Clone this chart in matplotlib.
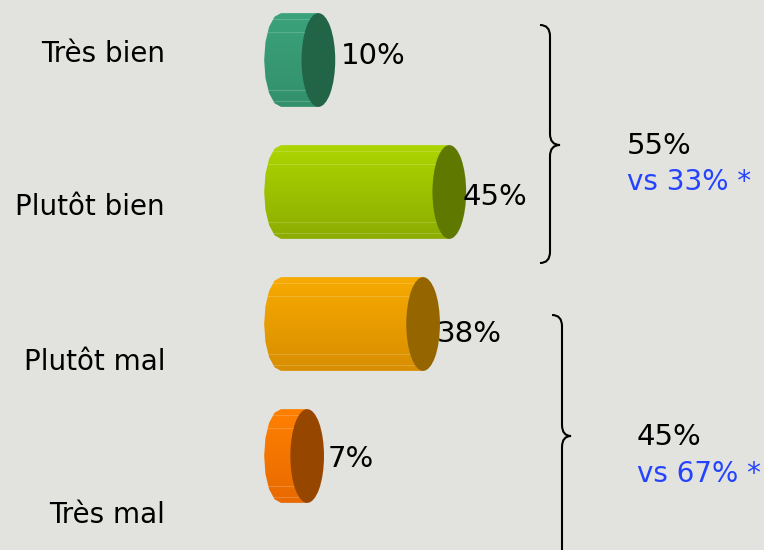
import numpy as np
import matplotlib
matplotlib.use('Agg')
import matplotlib.pyplot as plt
from matplotlib.patches import Ellipse, PathPatch
from matplotlib.path import Path

categories = ['Très bien', 'Plutôt bien', 'Plutôt mal', 'Très mal']
values = [10, 45, 38, 7]
value_labels = ['10%', '45%', '38%', '7%']

group_totals = ['55%', '45%']
group_compare = ['vs 33% *', 'vs 67% *']

# (light top, dark bottom, cap) per bar
body_top = ['#3aa27c', '#acd600', '#f7aa00', '#ff8000']
body_bot = ['#33906c', '#8cac00', '#d88e00', '#e86a00']
cap_col = ['#216446', '#5f7800', '#956600', '#974600']

# nudges of the value labels (pixels), as in the original slide
lab_dx = [6, -4, -3, 4]
lab_dy = [-4, 5, 10, 3]

bg = '#e2e2de'
W, H = 764, 550

fig = plt.figure(figsize=(W / 100, H / 100), dpi=100, facecolor=bg)
ax = fig.add_axes([0, 0, 1, 1])
ax.set_facecolor(bg)

# x in percent, y in category slots (0 at top)
px_per_pct = 3.74
x0_px = 281
slot_px = 132
y0_px = 60
ax.set_xlim(-x0_px / px_per_pct, (W - x0_px) / px_per_pct)
ax.set_ylim((H - y0_px) / slot_px, -y0_px / slot_px)
ax.axis('off')

bar_h = 0.71
cap_w = 9.0


def px(x, y):
    # figure pixel position -> figure fraction
    return x / W, 1 - y / H


for i, v in enumerate(values):
    top, bot = i - bar_h / 2, i + bar_h / 2
    # body: left half ellipse + rectangle up to value
    t = np.linspace(np.pi / 2, 3 * np.pi / 2, 9)
    left = np.column_stack([cap_w / 2 * np.cos(t), i - bar_h / 2 * np.sin(t)])
    verts = np.vstack([[[v, top]], left, [[v, bot]], [[v, top]]])
    path = Path(verts)
    patch = PathPatch(path, facecolor='none', edgecolor='none')
    ax.add_patch(patch)
    grad = np.linspace(0, 1, 60).reshape(-1, 1)
    c1 = np.array(matplotlib.colors.to_rgb(body_top[i]))
    c2 = np.array(matplotlib.colors.to_rgb(body_bot[i]))
    img = c1 + (c2 - c1) * grad[:, :, None]
    im = ax.imshow(img, extent=[-cap_w / 2, v, bot, top], aspect='auto',
                   interpolation='bilinear', zorder=2)
    im.set_clip_path(patch)
    # faint facet lines
    for f in [0.06, 0.2, 0.82, 0.94]:
        yy = top + f * bar_h
        ax.plot([-cap_w / 2 + 1, v], [yy, yy], color='white', alpha=0.18,
                lw=0.8, zorder=3, clip_path=patch)
    # right cap
    ax.add_patch(Ellipse((v, i), cap_w, bar_h, facecolor=cap_col[i],
                         edgecolor='none', zorder=4))
    ax.annotate(value_labels[i], (v + cap_w / 2, i),
                xytext=(lab_dx[i] * 0.72, -lab_dy[i] * 0.72),
                textcoords='offset points', fontsize=21,
                va='center', ha='left', zorder=5)

# category labels (evenly spaced, not aligned with bars)
label_base = [62, 215, 370, 523]
for lab, yb in zip(categories, label_base):
    fig.text(*px(165, yb), lab, fontsize=20, ha='right', va='baseline')


def brace(x_end, x_line, x_tip, y_top, y_mid, y_bot, r):
    verts = [(x_end, y_top), (x_line, y_top), (x_line, y_top + r),
             (x_line, y_mid - r), (x_line, y_mid), (x_tip, y_mid),
             (x_line, y_mid), (x_line, y_mid + r),
             (x_line, y_bot - r), (x_line, y_bot), (x_end, y_bot)]
    codes = [Path.MOVETO, Path.CURVE3, Path.CURVE3,
             Path.LINETO, Path.CURVE3, Path.CURVE3,
             Path.CURVE3, Path.CURVE3,
             Path.LINETO, Path.CURVE3, Path.CURVE3]
    ax.add_patch(PathPatch(Path(verts, codes), facecolor='none',
                           edgecolor='black', lw=1.5, zorder=5))


def to_x(p):
    return (p - x0_px) / px_per_pct


def to_y(p):
    return (p - y0_px) / slot_px


r = 0.085
brace(to_x(540), to_x(550), to_x(560), to_y(25), to_y(145), to_y(263), r)
brace(to_x(552), to_x(562), to_x(571), to_y(315), to_y(436), to_y(600), r)

fig.text(*px(627, 154), group_totals[0], fontsize=21, ha='left', va='baseline')
fig.text(*px(627, 190), group_compare[0], fontsize=20, ha='left',
         va='baseline', color='#2443ff')
fig.text(*px(637, 445), group_totals[1], fontsize=21, ha='left', va='baseline')
fig.text(*px(637, 482), group_compare[1], fontsize=20, ha='left',
         va='baseline', color='#2443ff')

plt.savefig('out.png', dpi=100, facecolor=bg)
